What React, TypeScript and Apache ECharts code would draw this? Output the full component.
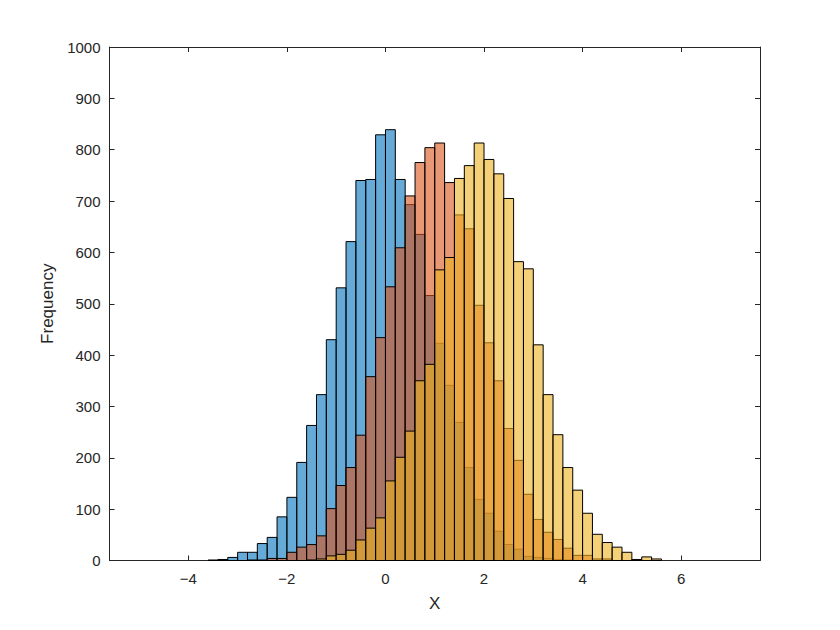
import React, { useEffect, useRef } from "react";
import * as echarts from "echarts";

const BIN_WIDTH = 0.2;

const blueStart = -3.6;
const blueCounts = [
  1, 2, 6, 16, 16, 33, 45, 85, 123, 191, 263, 323, 430, 531, 621, 740, 742, 829,
  839, 742, 693, 635, 516, 423, 341, 269, 181, 119, 92, 57, 31, 22, 8, 6, 4, 2, 1,
];

const orangeStart = -2.8;
const orangeCounts = [
  1, 1, 4, 4, 16, 26, 31, 48, 101, 146, 181, 244, 358, 434, 533, 609, 710, 775,
  804, 813, 736, 673, 646, 497, 424, 350, 257, 195, 129, 80, 55, 41, 24, 10, 10, 3, 3,
];

const yellowStart = -1.6;
const yellowCounts = [
  1, 3, 9, 12, 20, 40, 63, 83, 155, 201, 252, 350, 382, 566, 590, 744, 769, 813,
  781, 753, 705, 582, 568, 420, 323, 245, 181, 137, 92, 51, 35, 26, 16, 2, 7, 3,
];

const xTicks = [-4, -2, 0, 2, 4, 6];
const X_MIN = -5.6;
const X_MAX = 7.6;
const Y_MIN = 0;
const Y_MAX = 1000;
const Y_STEP = 100;

const seriesColors = [
  "rgba(0, 114, 189, 0.6)",
  "rgba(217, 83, 25, 0.6)",
  "rgba(237, 177, 32, 0.6)",
];

function toBins(start: number, counts: number[]) {
  return counts.map((c, i) => {
    const x0 = Math.round((start + i * BIN_WIDTH) * 10) / 10;
    const x1 = Math.round((start + (i + 1) * BIN_WIDTH) * 10) / 10;
    return [x0, x1, c];
  });
}

const AXIS_COLOR = "#262626";
const FONT = "'Liberation Sans', Arial, Helvetica, sans-serif";

export default function App() {
  const ref = useRef<HTMLDivElement>(null);

  useEffect(() => {
    if (!ref.current) return;
    const chart = echarts.init(ref.current, null, { renderer: "svg" });

    const makeSeries = (data: number[][], color: string) => ({
      type: "custom",
      data,
      encode: { x: [0, 1], y: 2 },
      renderItem: (params: any, api: any) => {
        const x0 = api.value(0);
        const x1 = api.value(1);
        const c = api.value(2);
        const p0 = api.coord([x0, c]);
        const p1 = api.coord([x1, 0]);
        return {
          type: "rect",
          shape: { x: p0[0], y: p0[1], width: p1[0] - p0[0], height: p1[1] - p0[1] },
          style: { fill: color, stroke: "#000000", lineWidth: 1 },
        };
      },
    });

    const fmt = (v: number) => String(v).replace("-", "\u2212");

    const baseX = {
      type: "value",
      min: X_MIN,
      max: X_MAX,
      axisLine: { show: true, onZero: false, lineStyle: { color: AXIS_COLOR, width: 1 } },
      axisTick: { show: true, inside: true, length: 5, customValues: xTicks, lineStyle: { color: AXIS_COLOR } },
      splitLine: { show: false },
    };
    const baseY = {
      type: "value",
      min: Y_MIN,
      max: Y_MAX,
      interval: Y_STEP,
      axisLine: { show: true, onZero: false, lineStyle: { color: AXIS_COLOR, width: 1 } },
      axisTick: { show: true, inside: true, length: 5, lineStyle: { color: AXIS_COLOR } },
      splitLine: { show: false },
    };

    chart.setOption({
      animation: false,
      backgroundColor: "#ffffff",
      grid: { left: 109.5, right: 80, top: 47, bottom: 69.5, containLabel: false },
      xAxis: [
        {
          ...baseX,
          position: "bottom",
          name: "X",
          nameLocation: "middle",
          nameGap: 34,
          nameTextStyle: { color: AXIS_COLOR, fontFamily: FONT, fontSize: 17 },
          axisLabel: {
            show: true,
            customValues: xTicks,
            formatter: fmt,
            color: AXIS_COLOR,
            fontFamily: FONT,
            fontSize: 15,
            margin: 10,
          },
        },
        { ...baseX, position: "top", axisLabel: { show: false } },
      ],
      yAxis: [
        {
          ...baseY,
          position: "left",
          name: "Frequency",
          nameLocation: "middle",
          nameGap: 52,
          nameTextStyle: { color: AXIS_COLOR, fontFamily: FONT, fontSize: 17 },
          axisLabel: {
            color: AXIS_COLOR,
            fontFamily: FONT,
            fontSize: 15,
            margin: 9,
            formatter: (v: number) => String(v),
          },
        },
        { ...baseY, position: "right", axisLabel: { show: false } },
      ],
      series: [
        makeSeries(toBins(blueStart, blueCounts), seriesColors[0]),
        makeSeries(toBins(orangeStart, orangeCounts), seriesColors[1]),
        makeSeries(toBins(yellowStart, yellowCounts), seriesColors[2]),
      ],
    });

    return () => chart.dispose();
  }, []);

  return (
    <div
      ref={ref}
      style={{ position: "fixed", left: 0, top: 0, width: 840, height: 630, background: "#fff" }}
    />
  );
}
